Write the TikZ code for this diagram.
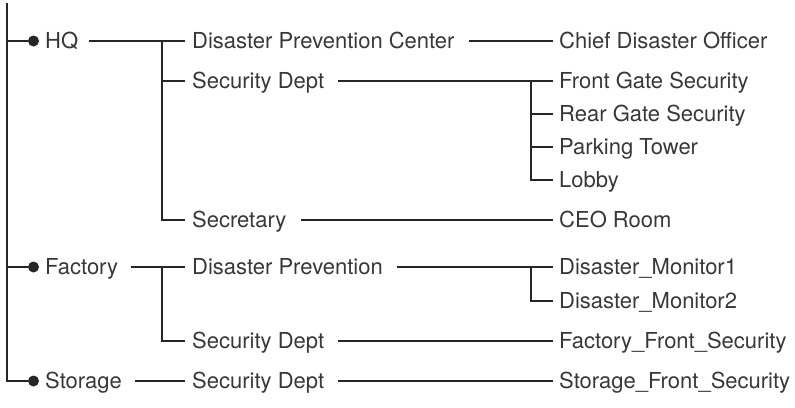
\documentclass[tikz,border=0pt]{standalone}
\usepackage{fontspec}
\setmainfont{TeX Gyre Heros}
\begin{document}
\begin{tikzpicture}[x=1pt,y=-1pt,
  lbl/.style={anchor=west,inner sep=0pt,text height=15.8pt,text depth=0pt,font=\fontsize{22}{26}\selectfont,text=black!78},
  ln/.style={line width=1.8pt,draw=black!85},
  dotm/.style={circle,fill=black!85,inner sep=0pt,minimum size=11pt}]
\useasboundingbox (0,0) rectangle (795,407);
% level 0
\coordinate (top) at (7,3);
\node[dotm] (dhq) at (33.5,41) {};
\node[dotm] (dfac) at (33.5,267) {};
\node[dotm] (dsto) at (33.5,381) {};
\node[lbl] (hq) at (45,41) {HQ};
\node[lbl] (fac) at (45,267) {Factory};
\node[lbl] (sto) at (45,381) {Storage};
% level 1
\node[lbl] (dpc) at (192,41) {Disaster Prevention Center};
\node[lbl] (sd1) at (192,81) {Security Dept};
\node[lbl] (sec) at (192,220) {Secretary};
\node[lbl] (dp) at (192,267) {Disaster Prevention};
\node[lbl] (sd2) at (192,341) {Security Dept};
\node[lbl] (sd3) at (192,381) {Security Dept};
% level 2
\node[lbl] (chief) at (559,41) {Chief Disaster Officer};
\node[lbl] (front) at (559,81) {Front Gate Security};
\node[lbl] (rear) at (559,114) {Rear Gate Security};
\node[lbl] (park) at (559,147) {Parking Tower};
\node[lbl] (lobby) at (559,180) {Lobby};
\node[lbl] (ceo) at (559,220) {CEO Room};
\node[lbl] (mon1) at (559,267) {Disaster\_Monitor1};
\node[lbl] (mon2) at (559,301) {Disaster\_Monitor2};
\node[lbl] (ffs) at (559,341) {Factory\_Front\_Security};
\node[lbl] (sfs) at (559,381) {Storage\_Front\_Security};
% branch points
\coordinate (bhq) at ([xshift=-30pt]dpc.west);
\coordinate (bfac) at ([xshift=-30pt]dp.west);
\coordinate (bsd) at ([xshift=-28pt]front.west);
\coordinate (bdp) at ([xshift=-28pt]mon1.west);
% root
\draw[ln] (top) |- (dsto);
\draw[ln] (top |- dhq) -- (dhq);
\draw[ln] (top |- dfac) -- (dfac);
% level 0 -> 1
\draw[ln] ([xshift=11pt]hq.east) -- ([xshift=-7pt]dpc.west);
\draw[ln] (bhq) |- ([xshift=-7pt]sec.west);
\draw[ln] (bhq |- sd1) -- ([xshift=-7pt]sd1.west);
\draw[ln] ([xshift=13pt]fac.east) -- ([xshift=-7pt]dp.west);
\draw[ln] (bfac) |- ([xshift=-7pt]sd2.west);
\draw[ln] ([xshift=13pt]sto.east) -- ([xshift=-7pt]sd3.west);
% level 1 -> 2
\draw[ln] ([xshift=14pt]dpc.east) -- ([xshift=-6pt]chief.west);
\draw[ln] ([xshift=14pt]sd1.east) -- ([xshift=-6pt]front.west);
\draw[ln] (bsd) |- ([xshift=-6pt]lobby.west);
\draw[ln] (bsd |- rear) -- ([xshift=-6pt]rear.west);
\draw[ln] (bsd |- park) -- ([xshift=-6pt]park.west);
\draw[ln] ([xshift=14pt]sec.east) -- ([xshift=-6pt]ceo.west);
\draw[ln] ([xshift=14pt]dp.east) -- ([xshift=-6pt]mon1.west);
\draw[ln] (bdp) |- ([xshift=-6pt]mon2.west);
\draw[ln] ([xshift=14pt]sd2.east) -- ([xshift=-6pt]ffs.west);
\draw[ln] ([xshift=14pt]sd3.east) -- ([xshift=-6pt]sfs.west);
\end{tikzpicture}
\end{document}
